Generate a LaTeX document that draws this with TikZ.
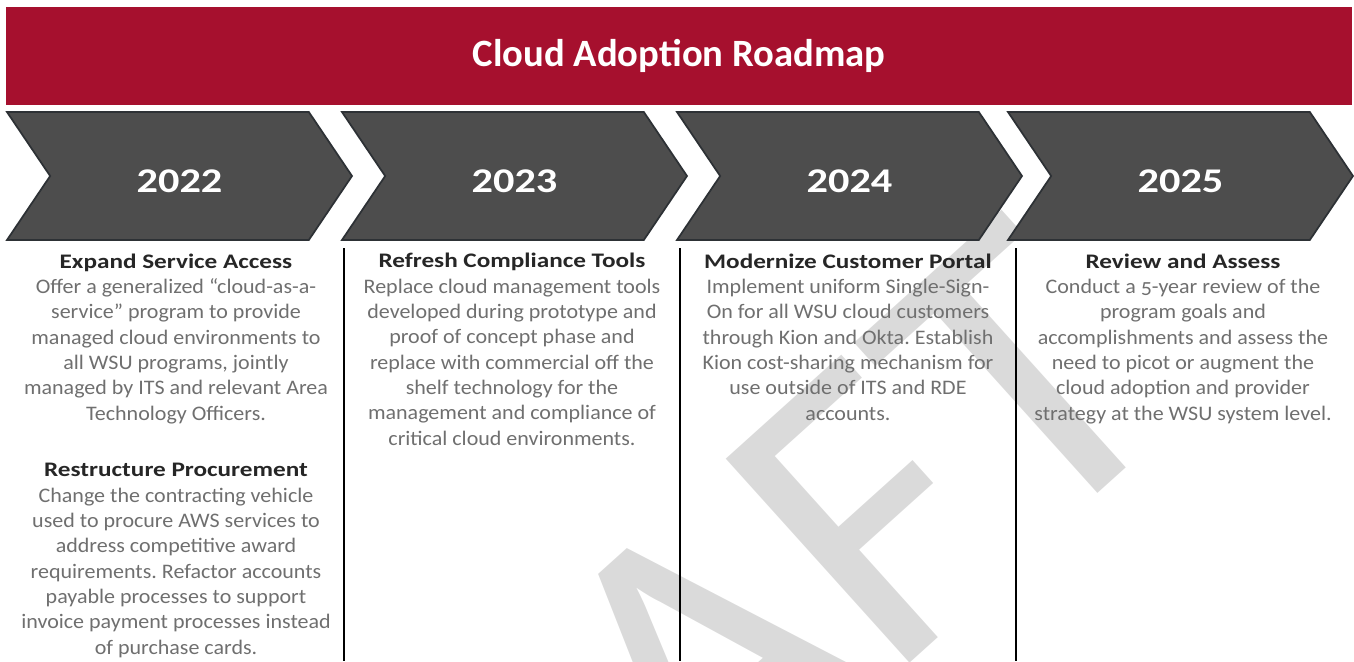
\documentclass[tikz,border=0pt]{standalone}
\usepackage{fontspec}
\setmainfont{Carlito}[Numbers=OldStyle, FakeStretch=1.065]
\newfontfamily\headfont{Carlito}[FakeStretch=1.22]
\newfontfamily\plainfont{Carlito}
\usetikzlibrary{shapes.symbols, positioning}
\frenchspacing

\definecolor{wsucrimson}{HTML}{A6102E}
\definecolor{chevfill}{HTML}{4D4D4D}
\definecolor{chevline}{HTML}{2D3135}
\definecolor{headtext}{HTML}{262626}
\definecolor{bodytext}{HTML}{6F6F6F}
\definecolor{draftgray}{HTML}{DADADA}

\tikzstyle{banner} = [rectangle, 
fill=wsucrimson, 
minimum width=1009.5pt, 
minimum height=73.5pt, 
text=white, 
font=\plainfont\fontsize{29}{29}\selectfont\bfseries]
\tikzstyle{chevron} = [signal, 
signal from=west, 
signal to=east, 
signal pointer angle=112, 
minimum width=258.75pt, 
minimum height=96pt, 
inner sep=0pt, 
text height=24pt, 
text depth=0pt, 
fill=chevfill, 
draw=chevline, 
line width=1.3pt, 
text=white, 
font=\headfont\fontsize{26}{26}\selectfont\bfseries]
\tikzstyle{column} = [align=center, 
inner sep=0pt, 
text=bodytext, 
font=\fontsize{15.5}{19}\selectfont]
\tikzstyle{watermark} = [inner sep=0pt, 
rotate=42, 
text=draftgray, 
font=\plainfont\fontsize{321}{321}\selectfont]
\tikzstyle{divider} = [line width=1.5pt, black]

\newcommand{\goal}[1]{{\headfont\bfseries\color{headtext}#1}}

\begin{document}
\begin{tikzpicture}[x=0.75pt, y=-0.75pt]
        \useasboundingbox (0,0) rectangle (1354,661);

        % --- Watermark behind everything ---
        \begin{scope}
            \clip (0,0) rectangle (1354,661);
            \node (draft) [watermark, anchor=base west] at (336,1180) {DRAFT};
        \end{scope}

        % --- Banner ---
        \node (title) [banner] at (679,56) {Cloud Adoption Roadmap};

        % --- Year chevrons ---
        \node (y2022) [chevron] at (179.5,176) {2022};
        \node (y2023) [chevron] at (514.5,176) {2023};
        \node (y2024) [chevron] at (849.5,176) {2024};
        \node (y2025) [chevron] at (1180.5,176) {2025};

        % --- Column dividers ---
        \draw [divider] (344,248) -- (344,661);
        \draw [divider] (680,248) -- (680,661);
        \draw [divider] (1016,248) -- (1016,661);

        % --- Goals per year (anchored on the last baseline) ---
        \node (expand) [column, anchor=base] at (176,420) {\goal{Expand Service Access}\\
            Offer a generalized “cloud-as-a-\\
            service” program to provide\\
            managed cloud environments to\\
            all WSU programs, jointly\\
            managed by ITS and relevant Area\\
            Technology Officers.};
        \node (procure) [column, anchor=base] at (176,654) {\goal{Restructure Procurement}\\
            Change the contracting vehicle\\
            used to procure AWS services to\\
            address competitive award\\
            requirements. Refactor accounts\\
            payable processes to support\\
            invoice payment processes instead\\
            of purchase cards.};
        \node (refresh) [column, anchor=base] at (512,445) {\goal{Refresh Compliance Tools}\\
            Replace cloud management tools\\
            developed during prototype and\\
            proof of concept phase and\\
            replace with commercial off the\\
            shelf technology for the\\
            management and compliance of\\
            critical cloud environments.};
        \node (portal) [column, anchor=base] at (848,420) {\goal{Modernize Customer Portal}\\
            Implement uniform Single-Sign-\\
            On for all WSU cloud customers\\
            through Kion and Okta. Establish\\
            Kion cost-sharing mechanism for\\
            use outside of ITS and RDE\\
            accounts.};
        \node (review) [column, anchor=base] at (1183,420) {\goal{Review and Assess}\\
            Conduct a 5-year review of the\\
            program goals and\\
            accomplishments and assess the\\
            need to picot or augment the\\
            cloud adoption and provider\\
            strategy at the WSU system level.};

\end{tikzpicture}
\end{document}
